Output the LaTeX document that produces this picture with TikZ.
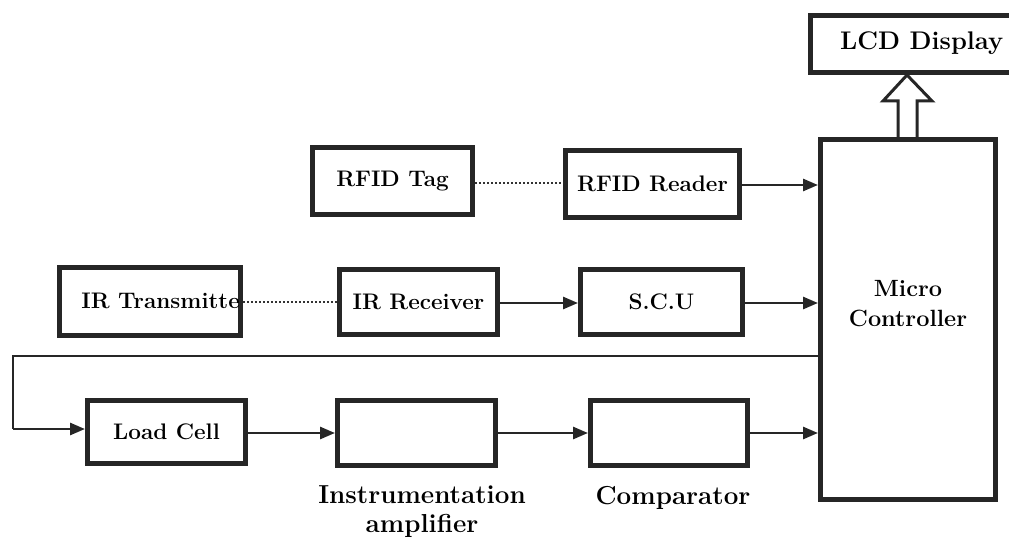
\documentclass[tikz,border=0pt]{standalone}
\usetikzlibrary{arrows.meta}
\begin{document}
\begin{tikzpicture}[x=1pt,y=-1pt,
  blk/.style={draw=black!85,line width=5pt,fill=white,inner sep=0pt,align=center,
    font=\fontsize{22.5}{26}\selectfont\bfseries},
  lbl/.style={inner sep=0pt,align=center,font=\fontsize{26}{29}\selectfont\bfseries},
  conn/.style={draw=black!85,line width=2.7pt,-{Triangle[length=15pt,width=12pt]}},
  dot/.style={draw=black!80,line width=1.8pt,dash pattern=on 2pt off 2pt},
  fb/.style={draw=black!85,line width=2.7pt}]
\useasboundingbox (0,0) rectangle (1009,540);
\clip (0,0) rectangle (1009,540);
% boxes
\node[blk,minimum width=212pt,minimum height=57pt] (lcd) at (916,44) {};
\node[font=\fontsize{25.5}{28}\selectfont\bfseries,anchor=west,inner sep=0pt] (lcdt) at (840,43) {LCD Display};
\node[blk,minimum width=175pt,minimum height=360pt] (mc) at (908,319.5) {};
\node[align=center,inner sep=0pt,font=\fontsize{23.5}{30}\selectfont\bfseries] (mct) at (908,304) {Micro\\Controller};
\node[blk,minimum width=160pt,minimum height=67pt] (tag) at (392.5,181) {RFID Tag};
\node[blk,minimum width=174pt,minimum height=67pt] (rdr) at (652.5,184) {RFID Reader};
\node[blk,minimum width=181pt,minimum height=68pt] (tx) at (150,301.5) {};
\node[font=\fontsize{22.5}{26}\selectfont\bfseries,anchor=east,inner sep=0pt] (txt) at (240,301) {IR Transmitte};
\node[blk,minimum width=158pt,minimum height=65pt] (rx) at (418.5,302) {IR Receiver};
\node[blk,minimum width=162pt,minimum height=65pt] (scu) at (661.5,302) {S.C.U};
\node[blk,minimum width=158pt,minimum height=63pt] (load) at (166.5,432) {Load Cell};
\node[blk,minimum width=158pt,minimum height=65pt] (amp) at (416.5,433) {};
\node[blk,minimum width=157pt,minimum height=65pt] (comp) at (669,433) {};
\node[lbl] (ampl) at (422,512) {Instrumentation\\amplifier};
\node[lbl] (compl) at (673,498) {Comparator};
% hollow arrow MC -> LCD
\draw[draw=black!85,line width=3pt,fill=white,line join=miter]
  (mc.north -| 898,0) -- (898,101) -- (883,101) -- (lcd.south -| 907,0) -- (932,101) -- (917,101) -- (mc.north -| 917,0);
% dotted links
\draw[dot] (tag.east |- 0,183) -- (rdr.west |- 0,183);
\draw[dot] (tx.east |- 0,302) -- (rx.west |- 0,302);
% arrows
\draw[conn] (rdr.east |- 0,185) -- (mc.west |- 0,185);
\draw[conn] (rx.east |- 0,303) -- (scu.west |- 0,303);
\draw[conn] (scu.east |- 0,303) -- (mc.west |- 0,303);
\draw[conn] (load.east |- 0,433) -- (amp.west |- 0,433);
\draw[conn] (amp.east |- 0,433) -- (comp.west |- 0,433);
\draw[conn] (comp.east |- 0,433) -- (mc.west |- 0,433);
% feedback
\coordinate (c1) at (13,356);
\coordinate (c2) at (13,429);
\draw[fb] (mc.west |- c1) -- (c1) -- (c2);
\draw[conn] (c2) -- (load.west |- c2);
\end{tikzpicture}
\end{document}
